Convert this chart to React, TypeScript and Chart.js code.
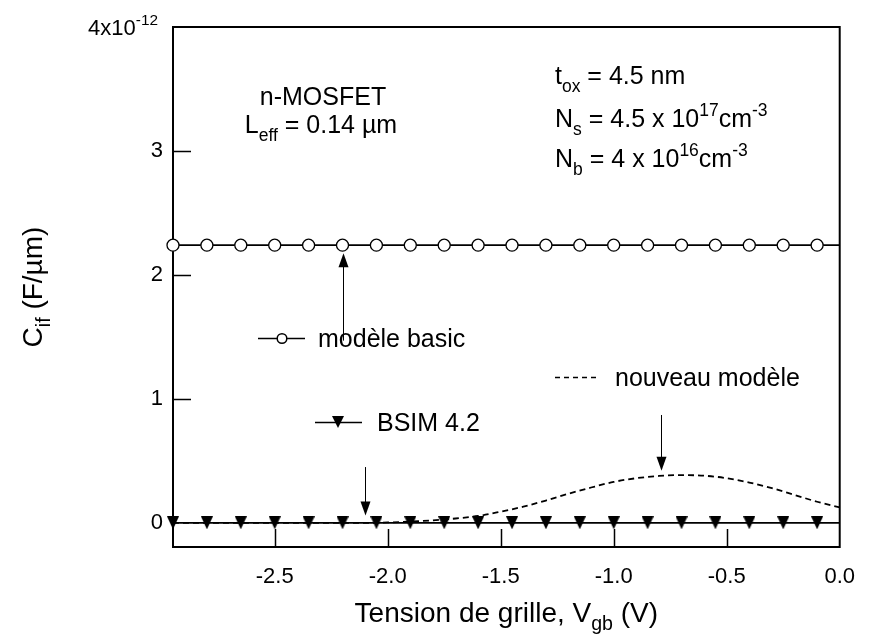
import React, { useEffect, useRef } from 'react';
import { Chart, registerables } from 'chart.js';

Chart.register(...registerables);

// ---- data (y in units of 1e-12 F/µm) ----
const MARK_X = [-2.95, -2.8, -2.65, -2.5, -2.35, -2.2, -2.05, -1.9, -1.75, -1.6, -1.45, -1.3, -1.15, -1.0, -0.85, -0.7, -0.55, -0.4, -0.25, -0.1, 0];
const BASIC_Y = [2.24, 2.24, 2.24, 2.24, 2.24, 2.24, 2.24, 2.24, 2.24, 2.24, 2.24, 2.24, 2.24, 2.24, 2.24, 2.24, 2.24, 2.24, 2.24, 2.24, 2.24];
const BSIM_Y = [0, 0, 0, 0, 0, 0, 0, 0, 0, 0, 0, 0, 0, 0, 0, 0, 0, 0, 0, 0, 0];
const NEW_X = [-2.95, -2.6, -2.3, -2.1, -2.0, -1.9, -1.8, -1.7, -1.6, -1.5, -1.4, -1.3, -1.2, -1.1, -1.0, -0.9, -0.8, -0.7, -0.6, -0.5, -0.4, -0.3, -0.2, -0.1, 0];
const NEW_Y = [0, 0, 0, 0, 0.003, 0.01, 0.02, 0.035, 0.055, 0.09, 0.13, 0.18, 0.235, 0.285, 0.33, 0.36, 0.378, 0.385, 0.38, 0.36, 0.325, 0.28, 0.225, 0.17, 0.125];

const X_TICKS = [-2.5, -2.0, -1.5, -1.0, -0.5, 0.0];
const Y_TICKS = [0, 1, 2, 3, 4];
const X_MIN = -2.95;
const X_MAX = 0;
const Y_MIN = -0.195;
const Y_MAX = 4;

// arrows: x, tail y, head y
const ARROW_X = [-2.2, -2.1, -0.79];
const ARROW_FROM = [1.47, 0.45, 0.87];
const ARROW_TO = [2.175, 0.06, 0.42];

const FONT = '"Liberation Sans", Arial, Helvetica, sans-serif';
const ANN = 25;
const TITLE = 28;

type Seg = [string, number]; // 0 normal, 1 sub, 2 sup

function drawRich(ctx: CanvasRenderingContext2D, segs: Seg[], x: number, y: number, size: number, align: 'left' | 'center' | 'right') {
  const small = size * 0.7;
  let total = 0;
  for (const [t, m] of segs) {
    ctx.font = `${m ? small : size}px ${FONT}`;
    total += ctx.measureText(t).width;
  }
  let cx = align === 'left' ? x : align === 'center' ? x - total / 2 : x - total;
  ctx.textAlign = 'left';
  ctx.textBaseline = 'alphabetic';
  for (const [t, m] of segs) {
    ctx.font = `${m ? small : size}px ${FONT}`;
    const dy = m === 1 ? size * 0.3 : m === 2 ? -size * 0.45 : 0;
    ctx.fillText(t, cx, y + dy);
    cx += ctx.measureText(t).width;
  }
}

function makeTri(w: number, h: number) {
  const c = document.createElement('canvas');
  c.width = w;
  c.height = h;
  const g = c.getContext('2d')!;
  g.fillStyle = '#000';
  g.beginPath();
  g.moveTo(0, 0);
  g.lineTo(w, 0);
  g.lineTo(w / 2, h);
  g.closePath();
  g.fill();
  return c;
}

const framePlugin = {
  id: 'frame',
  beforeDatasetsDraw(chart: any) {
    const { ctx, chartArea: a, scales } = chart;
    ctx.save();
    ctx.strokeStyle = '#000';
    ctx.lineWidth = 2;
    ctx.strokeRect(a.left, a.top, a.right - a.left, a.bottom - a.top);
    ctx.lineWidth = 1.5;
    ctx.beginPath();
    for (const v of X_TICKS) {
      if (v === X_MAX) continue;
      const px = Math.round(scales.x.getPixelForValue(v)) + 0.5;
      ctx.moveTo(px, a.bottom);
      ctx.lineTo(px, a.bottom - 18);
    }
    for (const v of Y_TICKS) {
      if (v === 0 || v === Y_MAX) continue;
      const py = Math.round(scales.y.getPixelForValue(v)) + 0.5;
      ctx.moveTo(a.left, py);
      ctx.lineTo(a.left + 18, py);
    }
    ctx.stroke();
    ctx.restore();
  },
  afterDatasetsDraw(chart: any) {
    const { ctx, chartArea: a, scales } = chart;
    ctx.save();
    ctx.fillStyle = '#000';
    ctx.strokeStyle = '#000';
    // arrows
    for (let i = 0; i < ARROW_X.length; i++) {
      const px = Math.round(scales.x.getPixelForValue(ARROW_X[i])) + 0.5;
      const y0 = scales.y.getPixelForValue(ARROW_FROM[i]);
      const y1 = scales.y.getPixelForValue(ARROW_TO[i]);
      const dir = y1 > y0 ? 1 : -1;
      ctx.lineWidth = 1;
      ctx.beginPath();
      ctx.moveTo(px, y0);
      ctx.lineTo(px, y1 - dir * 10);
      ctx.stroke();
      ctx.beginPath();
      ctx.moveTo(px, y1);
      ctx.lineTo(px - 5, y1 - dir * 14);
      ctx.lineTo(px + 5, y1 - dir * 14);
      ctx.closePath();
      ctx.fill();
    }
    // top y label 4x10^-12
    const y4 = scales.y.getPixelForValue(Y_MAX);
    drawRich(ctx, [['4x10', 0], ['-12', 2]], a.left - 15, y4 + 8, 22, 'right');

    // annotation: n-MOSFET
    drawRich(ctx, [['n-MOSFET', 0]], 323, 105, ANN, 'center');
    drawRich(ctx, [['L', 0], ['eff', 1], [' = 0.14 µm', 0]], 321, 133, ANN, 'center');

    // annotation: parameters
    drawRich(ctx, [['t', 0], ['ox', 1], [' = 4.5 nm', 0]], 555, 84, ANN, 'left');
    drawRich(ctx, [['N', 0], ['s', 1], [' = 4.5 x 10', 0], ['17', 2], ['cm', 0], ['-3', 2]], 555, 127, ANN, 'left');
    drawRich(ctx, [['N', 0], ['b', 1], [' = 4 x 10', 0], ['16', 2], ['cm', 0], ['-3', 2]], 555, 167, ANN, 'left');

    // legend-like labels
    ctx.lineWidth = 1.5;
    ctx.setLineDash([]);
    ctx.beginPath();
    ctx.moveTo(258, 338.5);
    ctx.lineTo(305, 338.5);
    ctx.stroke();
    ctx.beginPath();
    ctx.arc(282, 338.5, 4.8, 0, Math.PI * 2);
    ctx.fillStyle = '#fff';
    ctx.fill();
    ctx.stroke();
    ctx.fillStyle = '#000';
    drawRich(ctx, [['modèle basic', 0]], 318, 347, ANN, 'left');

    ctx.beginPath();
    ctx.moveTo(315, 422.5);
    ctx.lineTo(362, 422.5);
    ctx.stroke();
    ctx.beginPath();
    ctx.moveTo(332, 416);
    ctx.lineTo(344, 416);
    ctx.lineTo(338, 428);
    ctx.closePath();
    ctx.fill();
    drawRich(ctx, [['BSIM 4.2', 0]], 377, 431, ANN, 'left');

    ctx.setLineDash([5, 4]);
    ctx.beginPath();
    ctx.moveTo(555, 377.5);
    ctx.lineTo(599, 377.5);
    ctx.stroke();
    ctx.setLineDash([]);
    drawRich(ctx, [['nouveau modèle', 0]], 615, 386, ANN, 'left');

    // axis titles
    drawRich(ctx, [['Tension de grille, V', 0], ['gb', 1], [' (V)', 0]], (a.left + a.right) / 2, 622, TITLE, 'center');
    ctx.translate(42, (a.top + a.bottom) / 2);
    ctx.rotate(-Math.PI / 2);
    drawRich(ctx, [['C', 0], ['if', 1], [' (F/µm)', 0]], 0, 0, TITLE, 'center');
    ctx.restore();
  },
};

export default function App() {
  const ref = useRef<HTMLCanvasElement>(null);
  useEffect(() => {
    document.body.style.margin = '0';
    const tri = makeTri(12, 13);
    const lastIdx = MARK_X.length - 1;
    const chart = new Chart(ref.current!, {
      type: 'line',
      data: {
        datasets: [
          {
            label: 'modèle basic',
            data: MARK_X.map((x, i) => ({ x, y: BASIC_Y[i] })),
            borderColor: '#000',
            borderWidth: 1.6,
            pointStyle: 'circle',
            pointRadius: (c: any) => (c.dataIndex === lastIdx ? 0 : 6),
            pointBackgroundColor: '#fff',
            pointBorderColor: '#000',
            pointBorderWidth: 1.3,
            clip: false as any,
          },
          {
            label: 'BSIM 4.2',
            data: MARK_X.map((x, i) => ({ x, y: BSIM_Y[i] })),
            borderColor: '#000',
            borderWidth: 1.6,
            pointStyle: (c: any) => (c.dataIndex === lastIdx ? false : tri) as any,
            pointRadius: 6,
            clip: false as any,
          },
          {
            label: 'nouveau modèle',
            data: NEW_X.map((x, i) => ({ x, y: NEW_Y[i] })),
            borderColor: '#000',
            borderWidth: 1.8,
            borderDash: [6, 4],
            pointRadius: 0,
            cubicInterpolationMode: 'monotone',
          },
        ],
      },
      options: {
        animation: false,
        responsive: false,
        devicePixelRatio: 1,
        layout: { padding: { top: 27, right: 18, left: 0, bottom: 0 } },
        plugins: { legend: { display: false }, tooltip: { enabled: false } },
        scales: {
          x: {
            type: 'linear',
            min: X_MIN,
            max: X_MAX,
            grid: { display: false, drawTicks: false, tickLength: 0 },
            border: { display: false },
            afterBuildTicks: (s: any) => {
              s.ticks = X_TICKS.map((v) => ({ value: v }));
            },
            afterFit: (s: any) => {
              s.height = 94;
            },
            ticks: {
              color: '#000',
              padding: 17,
              font: { family: FONT, size: 22 },
              maxRotation: 0,
              autoSkip: false,
              callback: (v: any) => Number(v).toFixed(1),
            },
          },
          y: {
            type: 'linear',
            min: Y_MIN,
            max: Y_MAX,
            grid: { display: false, drawTicks: false, tickLength: 0 },
            border: { display: false },
            afterBuildTicks: (s: any) => {
              s.ticks = Y_TICKS.map((v) => ({ value: v }));
            },
            afterFit: (s: any) => {
              s.width = 173;
            },
            ticks: {
              color: '#000',
              padding: 10,
              font: { family: FONT, size: 22 },
              autoSkip: false,
              callback: (v: any) => (v === Y_MAX ? '' : String(v)),
            },
          },
        },
      },
      plugins: [framePlugin],
    });
    return () => chart.destroy();
  }, []);
  return (
    <div style={{ width: 872, height: 641 }}>
      <canvas ref={ref} width={872} height={641} style={{ display: 'block' }} />
    </div>
  );
}
